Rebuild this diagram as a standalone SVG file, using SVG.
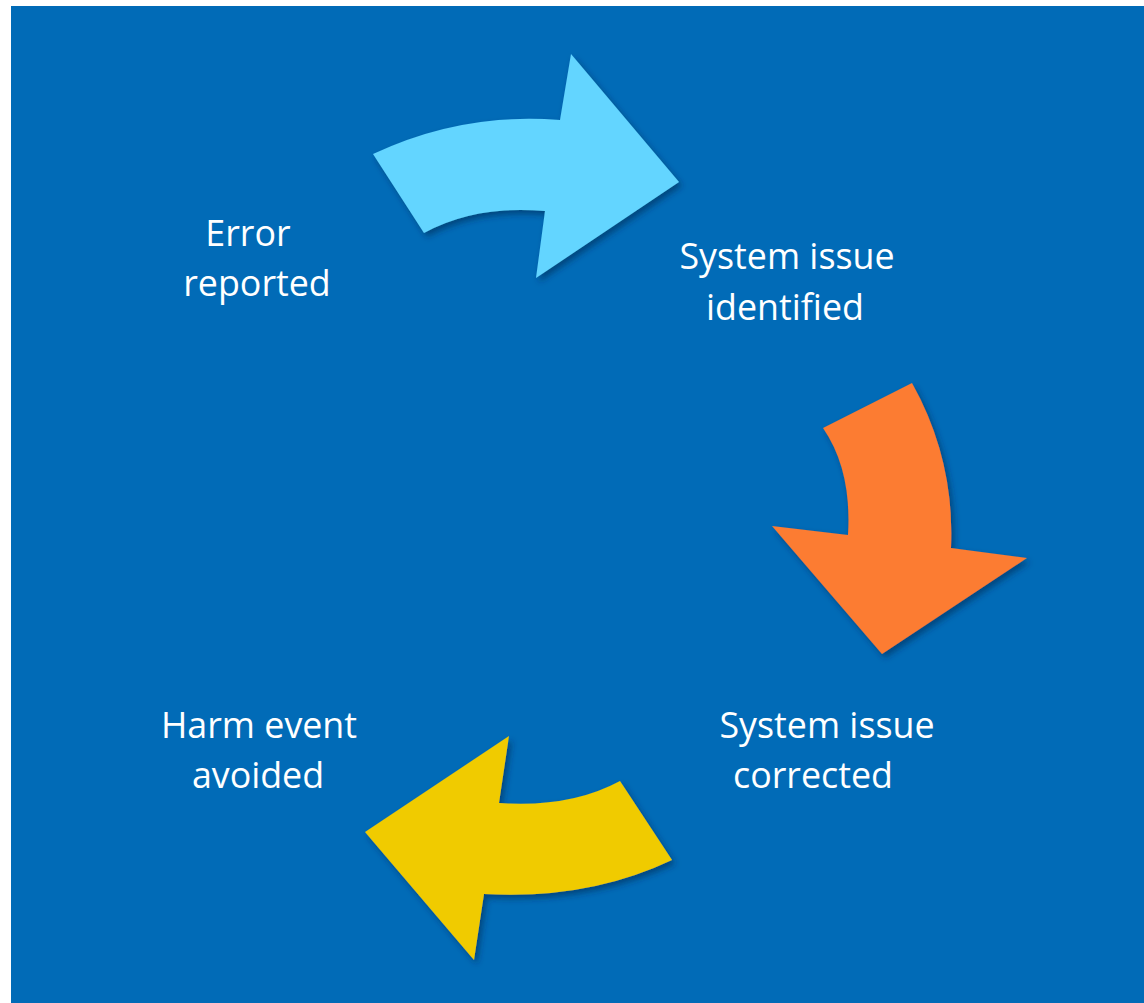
<svg xmlns="http://www.w3.org/2000/svg" width="1144" height="1003" viewBox="0 0 1144 1003">
  <style>
    .lbl { font-family: "Open Sans", "Liberation Sans", sans-serif; font-size: 35.8px; fill: #ffffff; text-anchor: middle; }
  </style>
  <defs>
    <filter id="shadow" x="-20%" y="-20%" width="140%" height="140%">
      <feDropShadow dx="3" dy="4" stdDeviation="3" flood-color="#002a50" flood-opacity="0.55"/>
    </filter>
  </defs>
  <rect x="0" y="0" width="1144" height="1003" fill="#ffffff"/>
  <rect x="11" y="6" width="1133" height="997" fill="#016BB7"/>

  <g id="connectors" filter="url(#shadow)">
    <path id="arrow-cyan" d="M373,154 Q462,112 560,120 L571,54 L679,182 L536,278 L545,211 Q475,205 424,233 Z" fill="#64D5FF"/>
    <path id="arrow-orange" d="M823,428 L912,383 Q955,460 951,548 L1027,558 L882,654 L772,526 L848,535 Q852,470 823,428 Z" fill="#FC7B30"/>
    <path id="arrow-yellow" d="M620,781 L672,860 Q588,900 484,894 L474,960 L365,832 L509,736 L499,803 Q570,808 620,781 Z" fill="#F0CB00"/>
  </g>

  <g id="node-error-reported">
    <text class="lbl" x="248" y="246">Error</text>
    <text class="lbl" x="257" y="296">reported</text>
  </g>
  <g id="node-system-issue-identified">
    <text class="lbl" x="787" y="269">System issue</text>
    <text class="lbl" x="785" y="320">identified</text>
  </g>
  <g id="node-system-issue-corrected">
    <text class="lbl" x="827" y="738">System issue</text>
    <text class="lbl" x="813" y="788">corrected</text>
  </g>
  <g id="node-harm-event-avoided">
    <text class="lbl" x="259" y="738">Harm event</text>
    <text class="lbl" x="258" y="788">avoided</text>
  </g>
</svg>
